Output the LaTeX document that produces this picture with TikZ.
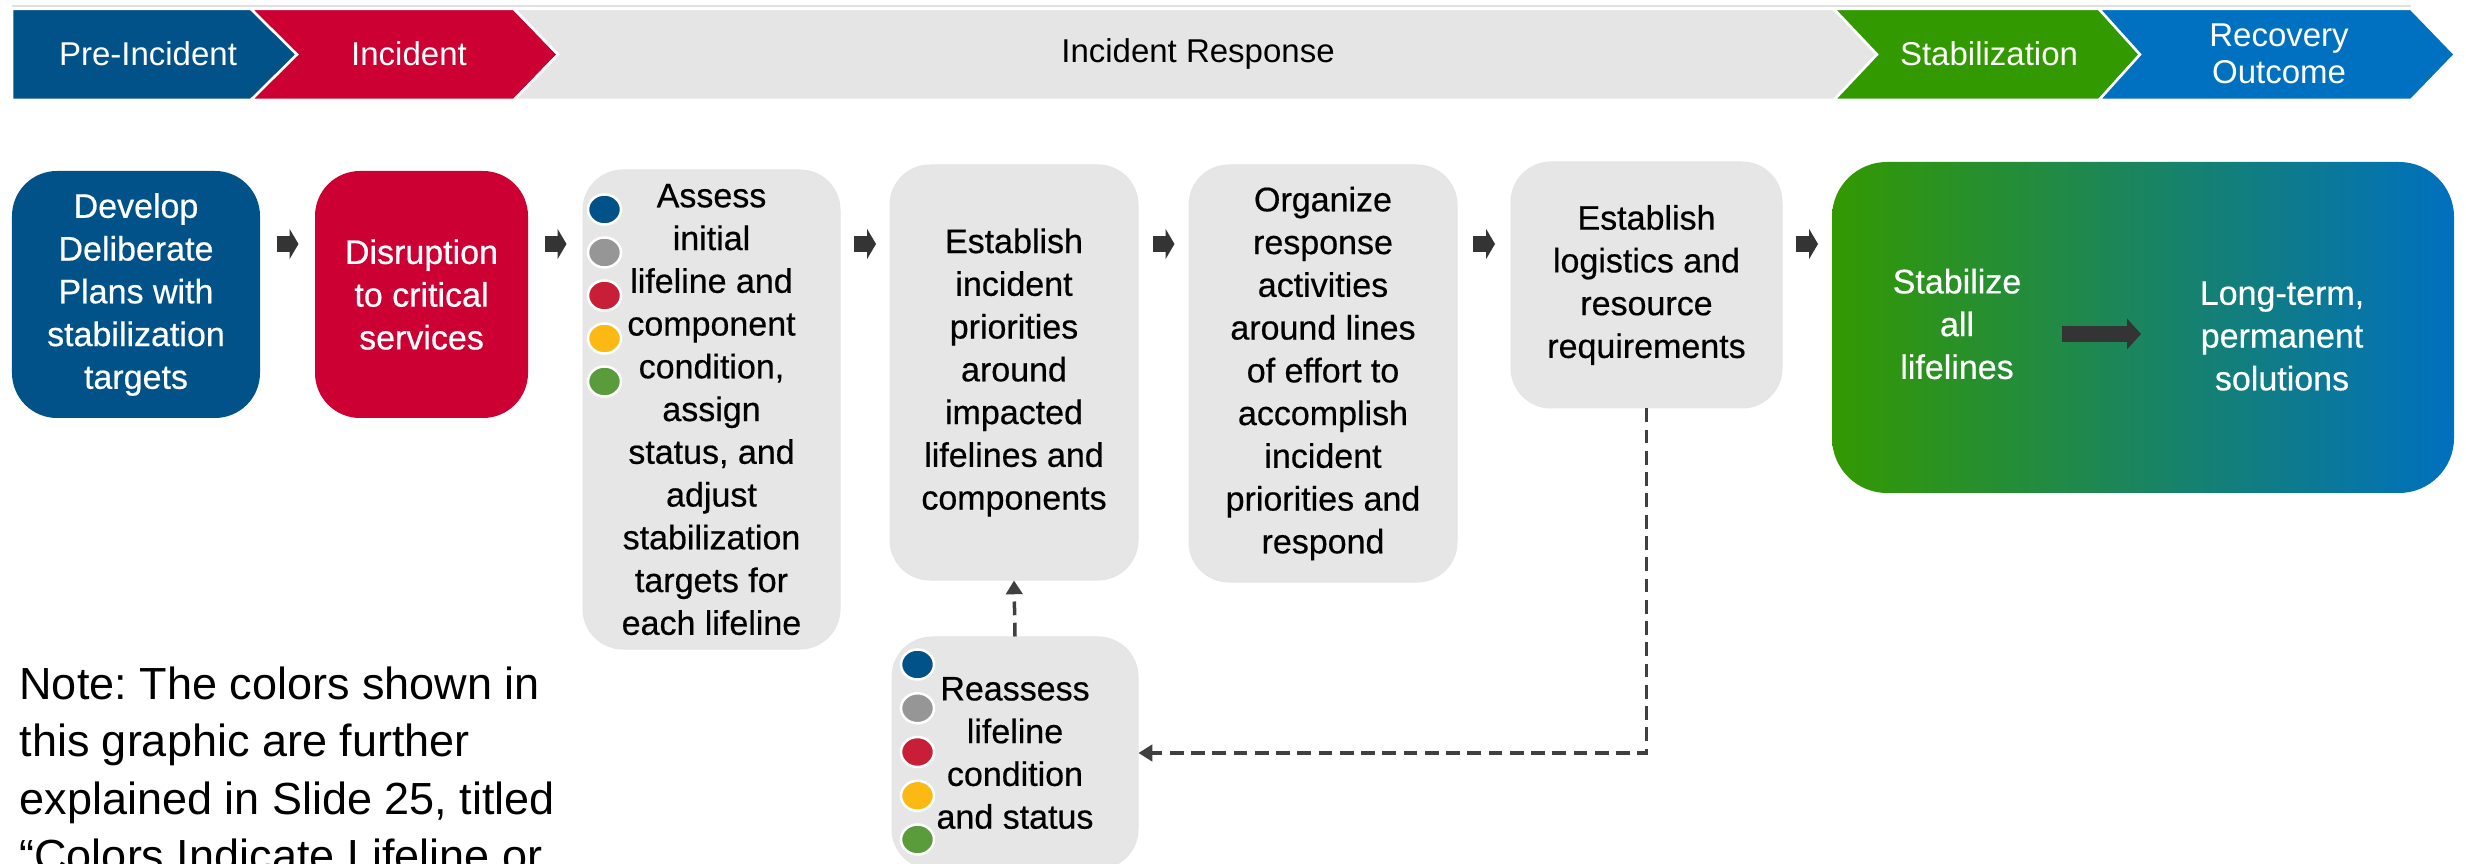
\documentclass[tikz,border=0pt]{standalone}
\usepackage{fontspec}
\setmainfont{Liberation Sans}
\newfontfamily\boxfont{Liberation Sans}[FakeBold=0.5]
\usetikzlibrary{arrows.meta,calc}
\frenchspacing

\definecolor{preblue}{RGB}{0,82,136}
\definecolor{incred}{RGB}{204,0,51}
\definecolor{respgray}{RGB}{229,229,229}
\definecolor{stabgreen}{RGB}{51,153,0}
\definecolor{recblue}{RGB}{0,112,192}
\definecolor{boxgray}{RGB}{230,230,230}
\definecolor{arrowgray}{RGB}{52,52,52}
\definecolor{dashgray}{RGB}{64,64,64}
\definecolor{dotblue}{RGB}{0,82,136}
\definecolor{dotgray}{RGB}{150,150,150}
\definecolor{dotred}{RGB}{200,30,55}
\definecolor{dotyellow}{RGB}{252,185,20}
\definecolor{dotgreen}{RGB}{90,155,60}

\tikzset{
    hdtext/.style={font=\fontsize{13.2}{14.8}\selectfont, align=center, inner sep=0pt},
    stepbox/.style={rounded corners=16pt, align=center, inner sep=2pt,
        font=\boxfont\fontsize{13.6}{17.1}\selectfont},
    graybox/.style={stepbox, fill=boxgray, draw=black!10, line width=0.4pt},
    fatarrow/.style={draw=arrowgray, line width=6.4pt, -{Triangle[length=3.6pt,width=12pt]}},
    dasharrow/.style={draw=dashgray, line width=1.4pt, dash pattern=on 5.5pt off 3pt,
        -{Triangle[length=5.5pt,width=6.5pt]}},
}

\begin{document}
\begin{tikzpicture}[x=0.4pt, y=-0.4pt]
    \useasboundingbox (0,0) rectangle (2466,864);
    \clip (0,0) rectangle (2466,864);
    \fill[white] (0,0) rectangle (2466,864);

    % phase banner
    \draw[black!12, line width=0.8pt] (12,6) -- (2411,6);
    \foreach \l/\r/\d/\e/\c in {12/251/0/46/preblue, 251/514/46/44/incred, 514/1834/44/43/respgray,
            1834/2099/43/41/stabgreen, 2099/2411/41/44/recblue}
        \filldraw[fill=\c, draw=white, line width=1pt]
            (\l,9) -- (\r,9) -- ++(\e,45.5) -- (\r,100) -- (\l,100) -- ++(\d,-45.5) -- cycle;

    \node[hdtext, text=white] (pre) at (148,54) {Pre-Incident};
    \node[hdtext, text=white] (inc) at (409,54) {Incident};
    \node[hdtext] (resp) at (1198,54) {Incident Response};
    \node[hdtext, text=white] (stabhd) at (1989,54) {Stabilization};
    \node[hdtext, text=white] (rec) at (2279,54) {Recovery\\Outcome};

    % steps
    \node[stepbox, fill=preblue, text=white, rounded corners=18pt,
        minimum width=99.2pt, minimum height=98.8pt] (dev) at (136,294.5)
        {Develop\\Deliberate\\Plans with\\stabilization\\targets};
    \node[stepbox, fill=incred, text=white, rounded corners=18pt,
        minimum width=85.2pt, minimum height=98.8pt] (dis) at (421.5,294.5)
        {Disruption\\to critical\\services};
    \node[graybox, minimum width=102.8pt, minimum height=191.6pt] (assess) at (711.5,409.5)
        {Assess\\initial\\lifeline and\\component\\condition,\\assign\\status, and\\adjust\\stabilization\\targets for\\each lifeline};
    \node[graybox, minimum width=99.2pt, minimum height=166pt] (prio) at (1014,372.5)
        {Establish\\incident\\priorities\\around\\impacted\\lifelines and\\components};
    \node[graybox, minimum width=107.2pt, minimum height=166.8pt] (org) at (1323,373.5)
        {Organize\\response\\activities\\around lines\\of effort to\\accomplish\\incident\\priorities and\\respond};
    \node[graybox, minimum width=108.4pt, minimum height=98.4pt] (logi) at (1646.5,285)
        {Establish\\logistics and\\resource\\requirements};
    \node[stepbox, left color=stabgreen, right color=recblue, rounded corners=22pt,
        minimum width=248.8pt, minimum height=132.4pt] (stab) at (2143,327.5) {};
    \node[graybox, minimum width=98.4pt, minimum height=92.8pt] (reass) at (1015,753)
        {Reassess\\lifeline\\condition\\and status};

    \node[stepbox, text=white] (stabtxt) at (1957,324) {Stabilize\\all\\lifelines};
    \node[stepbox, text=white] (longtxt) at (2282,336) {Long-term,\\permanent\\solutions};
    \coordinate (sa) at (2062,334);
    \coordinate (sb) at (2141,334);
    \draw[fatarrow, -{Triangle[length=5.6pt,width=12pt]}] (sa) -- (sb);

    % lifeline dots
    \foreach \c [count=\i from 0] in {dotblue,dotgray,dotred,dotyellow,dotgreen} {
        \filldraw[fill=\c, draw=white, line width=1pt]
            ($(assess.north west)+(22,40+43*\i)$) ellipse [x radius=6.6pt, y radius=6pt];
        \filldraw[fill=\c, draw=white, line width=1pt]
            ($(reass.north west)+(26,28+43.75*\i)$) ellipse [x radius=6.6pt, y radius=6pt];
    }

    \foreach \a/\b in {dev/dis, dis/assess, assess/prio, prio/org, org/logi, logi/stab} {
        \path ($(\a.east)!0.5!(\b.west)$) coordinate (m);
        \draw[fatarrow] (m |- 0,244) ++(-11,0) -- ++(22,0);
    }

    \draw[dasharrow] (logi.south) |- (reass.east);
    \draw[dasharrow] (reass.north) -- (prio.south);

    \node[anchor=north west, inner sep=0pt, align=left, font=\fontsize{18}{23}\selectfont] (note) at (19,666)
        {Note: The colors shown in\\this graphic are further\\explained in Slide 25, titled\\“Colors Indicate Lifeline or};
\end{tikzpicture}
\end{document}
